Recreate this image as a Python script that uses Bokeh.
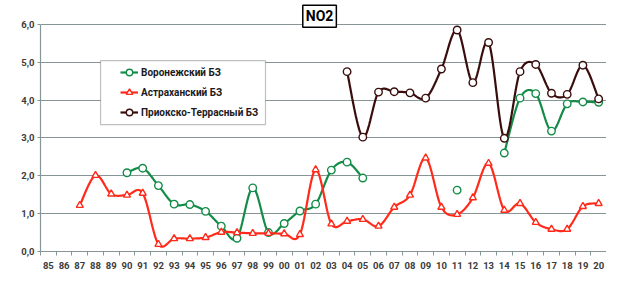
import numpy as np
from bokeh.plotting import figure
from bokeh.models import (Range1d, FixedTicker, Legend, LegendItem, BoxAnnotation, Label)
from bokeh.embed import file_html
from bokeh.resources import INLINE

years = ["85", "86", "87", "88", "89", "90", "91", "92", "93", "94", "95", "96", "97", "98", "99",
         "00", "01", "02", "03", "04", "05", "06", "07", "08", "09", "10", "11", "12", "13", "14",
         "15", "16", "17", "18", "19", "20"]

voronezh = [None, None, None, None, None, 2.08, 2.20, 1.74, 1.25, 1.24, 1.06, 0.67, 0.35, 1.68, 0.50,
            0.74, 1.07, 1.25, 2.15, 2.36, 1.94, None, None, None, None, None, 1.62, None, None, 2.60,
            4.05, 4.17, 3.18, 3.90, 3.95, 3.94]

astrakhan = [None, None, 1.22, 2.01, 1.52, 1.49, 1.54, 0.19, 0.34, 0.34, 0.37, 0.51, 0.50, 0.48, 0.48,
             0.47, 0.45, 2.16, 0.73, 0.80, 0.85, 0.67, 1.17, 1.49, 2.47, 1.17, 0.98, 1.42, 2.33, 1.09,
             1.27, 0.77, 0.59, 0.59, 1.19, 1.27]

prioksko = [None, None, None, None, None, None, None, None, None, None, None, None, None, None, None,
            None, None, None, None, 4.75, 3.02, 4.21, 4.22, 4.19, 4.05, 4.82, 5.85, 4.46, 5.52, 2.99,
            4.75, 4.94, 4.18, 4.15, 4.92, 4.03]

series_names = ["Воронежский БЗ", "Астраханский БЗ", "Приокско-Террасный БЗ"]
y_ticks = [0, 1, 2, 3, 4, 5, 6]
y_labels = ["0,0", "1,0", "2,0", "3,0", "4,0", "5,0", "6,0"]

GREEN = "#138c48"
RED = "#ff2a1a"
BROWN = "#3a0d0d"
GRID = "#869696"
LABEL = "#3c3c3c"
FONT = "Roboto"


def runs(vals):
    seg = []
    out = []
    for i, v in enumerate(vals):
        if v is None:
            if seg:
                out.append(seg)
            seg = []
        else:
            seg.append((i, v))
    if seg:
        out.append(seg)
    return out


def smooth(vals, n=16):
    """Smoothed (Catmull-Rom / Bezier) path through the points, NaN between runs."""
    xs_all, ys_all = [], []
    for seg in runs(vals):
        if len(seg) < 2:
            continue
        xs = [p[0] for p in seg]
        ys = [p[1] for p in seg]
        m = len(xs)
        for i in range(m - 1):
            i0 = i - 1 if i > 0 else i
            i3 = i + 2 if i + 2 < m else i + 1
            p0 = np.array([xs[i], ys[i]], float)
            p1 = np.array([xs[i + 1], ys[i + 1]], float)
            c1 = p0 + (np.array([xs[i + 1], ys[i + 1]]) - np.array([xs[i0], ys[i0]])) / 6.0
            c2 = p1 - (np.array([xs[i3], ys[i3]]) - np.array([xs[i], ys[i]])) / 6.0
            ts = np.linspace(0, 1, n)
            if i < m - 2:
                ts = ts[:-1]
            for t in ts:
                pt = ((1 - t) ** 3) * p0 + 3 * ((1 - t) ** 2) * t * c1 + 3 * (1 - t) * t * t * c2 + (t ** 3) * p1
                xs_all.append(pt[0])
                ys_all.append(pt[1])
        xs_all.append(np.nan)
        ys_all.append(np.nan)
    return xs_all, ys_all


def pts(vals):
    xs = [i for i, v in enumerate(vals) if v is not None]
    ys = [v for v in vals if v is not None]
    return xs, ys


p = figure(width=606, height=271, output_backend="svg", toolbar_location=None,
           x_range=Range1d(-0.5, len(years) - 0.5), y_range=Range1d(0, 6.55),
           min_border_left=40, min_border_right=0, min_border_top=3, min_border_bottom=10)
p.outline_line_color = None
p.background_fill_color = "white"
p.border_fill_color = "white"

# grid
p.xgrid.visible = False
p.ygrid.ticker = FixedTicker(ticks=y_ticks)
p.ygrid.grid_line_color = GRID
p.ygrid.grid_line_width = 1.2

# y axis
p.yaxis.ticker = FixedTicker(ticks=y_ticks)
p.yaxis.bounds = (0, 6)
p.yaxis.major_label_overrides = {t: l for t, l in zip(y_ticks, y_labels)}
p.yaxis.axis_line_color = GRID
p.yaxis.axis_line_width = 1.2
p.yaxis.major_tick_line_color = GRID
p.yaxis.major_tick_out = 3
p.yaxis.major_tick_in = 0
p.yaxis.minor_tick_line_color = None
p.yaxis.major_label_standoff = 3
p.yaxis.major_label_text_font = FONT
p.yaxis.major_label_text_font_style = "bold"
p.yaxis.major_label_text_font_size = "9.5px"
p.yaxis.major_label_text_color = LABEL

# x axis
xt = list(range(len(years)))
p.xaxis.ticker = FixedTicker(ticks=xt, minor_ticks=[i - 0.5 for i in range(len(years) + 1)])
p.xaxis.major_label_overrides = {i: y for i, y in zip(xt, years)}
p.xaxis.axis_line_color = GRID
p.xaxis.axis_line_width = 1.2
p.xaxis.major_tick_line_color = None
p.xaxis.major_tick_out = 0
p.xaxis.major_tick_in = 0
p.xaxis.minor_tick_line_color = GRID
p.xaxis.minor_tick_out = 4
p.xaxis.minor_tick_in = 0
p.xaxis.major_label_standoff = 6
p.xaxis.major_label_text_font = FONT
p.xaxis.major_label_text_font_style = "bold"
p.xaxis.major_label_text_font_size = "9.5px"
p.xaxis.major_label_text_color = LABEL

# legend box (white, framed)
box = BoxAnnotation(left=3.32, right=13.81, bottom=3.35, top=5.04,
                    fill_color="white", fill_alpha=1.0, line_color="#303030", line_width=1.2,
                    level="annotation")
p.add_layout(box)

items = []
for vals, color, marker, name in [(voronezh, GREEN, "circle", series_names[0]),
                                  (astrakhan, RED, "triangle", series_names[1]),
                                  (prioksko, BROWN, "circle", series_names[2])]:
    lx, ly = smooth(vals)
    lr = p.line(lx, ly, line_color=color, line_width=2.2)
    sx, sy = pts(vals)
    sr = p.scatter(sx, sy, marker=marker, size=7.5 if marker == "circle" else 7,
                   fill_color="white", line_color=color, line_width=1.4)
    items.append(LegendItem(label=name, renderers=[lr, sr]))

legend = Legend(items=items, location=(80, 131), orientation="vertical",
                glyph_width=18, glyph_height=16, label_height=16, spacing=4,
                padding=0, margin=0, label_standoff=3,
                label_text_font=FONT, label_text_font_style="bold",
                label_text_font_size="10px", label_text_color="#1a1a1a",
                border_line_color=None, background_fill_alpha=0.0)
p.add_layout(legend, "center")

title = Label(x=17.25, y=6.21, text="NO2", text_align="center", text_baseline="middle",
              text_font=FONT, text_font_style="bold", text_font_size="14px", text_color="black",
              background_fill_color="white", border_line_color="black", border_line_width=1.5,
              padding=3)
p.add_layout(title)

open("out.html", "w").write(file_html(p, INLINE))
